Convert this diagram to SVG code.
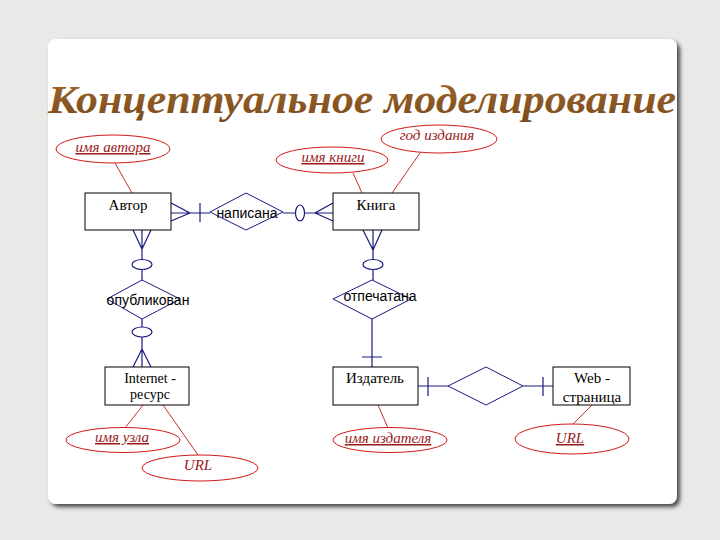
<svg xmlns="http://www.w3.org/2000/svg" width="720" height="540" viewBox="0 0 720 540">
<defs>
<filter id="shadow" x="-5%" y="-5%" width="115%" height="115%">
<feGaussianBlur in="SourceAlpha" stdDeviation="2"/>
<feOffset dx="3" dy="3" result="b"/>
<feComponentTransfer><feFuncA type="linear" slope="0.7"/></feComponentTransfer>
<feMerge><feMergeNode/><feMergeNode in="SourceGraphic"/></feMerge>
</filter>
<linearGradient id="tg" x1="0" y1="0" x2="0" y2="1">
<stop offset="0" stop-color="#a0682c"/>
<stop offset="1" stop-color="#7a4a1c"/>
</linearGradient>
<pattern id="speck" width="23" height="19" patternUnits="userSpaceOnUse">
<rect width="23" height="19" fill="#e9e9e7"/>
<circle cx="4" cy="5" r="0.7" fill="#dadad7"/>
<circle cx="15" cy="12" r="0.6" fill="#dcdcd9"/>
<circle cx="19" cy="3" r="0.6" fill="#f3f3f1"/>
<circle cx="9" cy="15" r="0.6" fill="#f2f2f0"/>
</pattern>
</defs>
<style>
.ent{fill:#fff;stroke:#000;stroke-width:1}
.et{font-family:"Liberation Serif","Times New Roman",serif;font-size:15px;fill:#000;text-anchor:middle}
.et2{font-size:14px}
.rel{fill:#fff;stroke:#1a1a80;stroke-width:1}
.rt{font-family:"Liberation Sans",Arial,sans-serif;font-size:14px;fill:#000;text-anchor:middle}
.ln{stroke:#1a1a80;stroke-width:1.2;fill:none}
.opt{fill:#fff;stroke:#1a1a80;stroke-width:1.2}
.att{fill:#fff;stroke:#d01818;stroke-width:1}
.at{font-family:"Liberation Serif","Times New Roman",serif;font-style:italic;font-size:15px;fill:#9a1a1a;text-anchor:middle}
.key{text-decoration:underline}
.al{stroke:#c83030;stroke-width:1;fill:none}
</style>
<rect width="720" height="540" fill="url(#speck)"/>
<rect x="48" y="39" width="629" height="465" rx="8" fill="#fff" filter="url(#shadow)"/>
<text x="362" y="113" font-family="Liberation Serif,'Times New Roman',serif" font-weight="bold" font-style="italic" font-size="40" fill="url(#tg)" text-anchor="middle" textLength="628" lengthAdjust="spacingAndGlyphs">Концептуальное моделирование</text>

<g id="connectors">
<line class="al" x1="115" y1="163" x2="132" y2="193"/>
<line class="al" x1="353" y1="173" x2="362" y2="193"/>
<line class="al" x1="420" y1="153" x2="392" y2="193"/>
<line class="al" x1="143" y1="405" x2="125" y2="428"/>
<line class="al" x1="163" y1="405" x2="198" y2="455"/>
<line class="al" x1="378" y1="405" x2="388" y2="428"/>
<line class="al" x1="592" y1="405" x2="573" y2="424"/>
<path class="ln" d="M171 203 L190 213 L171 221 M171 213 L210 213 M200 203 L200 222"/>
<path class="ln" d="M283 213 L333 213 M333 203 L315 213 L333 221"/>
<ellipse class="opt" cx="300" cy="213" rx="4.5" ry="8"/>
<path class="ln" d="M133 230 L142 249 L151 230 M142 230 L142 280"/>
<ellipse class="opt" cx="142" cy="264.5" rx="10" ry="5"/>
<path class="ln" d="M142 319 L142 367 M133 367 L142 349 L151 367"/>
<ellipse class="opt" cx="142" cy="332" rx="10" ry="5"/>
<path class="ln" d="M363 230 L373 250 L382 230 M373 230 L373 280"/>
<ellipse class="opt" cx="373" cy="264.5" rx="10" ry="5"/>
<path class="ln" d="M372 319 L372 367 M362 357 L382 357"/>
<path class="ln" d="M418 386 L448 386 M428 377 L428 396 M523 386 L553 386 M543 377 L543 396"/>
</g>

<g id="author"><rect class="ent" x="85" y="193" width="86" height="37"/><text class="et" x="128" y="210">Автор</text></g>
<g id="book"><rect class="ent" x="333" y="193" width="86" height="37"/><text class="et" x="376" y="210">Книга</text></g>
<g id="internet"><rect class="ent" x="105" y="367" width="84" height="38"/><text class="et et2" x="150" y="383">Internet -</text><text class="et et2" x="150" y="399">ресурс</text></g>
<g id="publisher"><rect class="ent" x="333" y="367" width="85" height="38"/><text class="et" x="375" y="383">Издатель</text></g>
<g id="webpage"><rect class="ent" x="553" y="367" width="77" height="38"/><text class="et" x="592" y="383">Web -</text><text class="et" x="592" y="402">страница</text></g>

<g id="rel-napisana"><polygon class="rel" points="210,212 246,193 283,212 246,230"/><text class="rt" x="247" y="218">написана</text></g>
<g id="rel-opublikovan"><polygon class="rel" points="107,299 142,280 180,299 142,319"/><text class="rt" x="148" y="305">опубликован</text></g>
<g id="rel-otpechatana"><polygon class="rel" points="333,299 372,280 411,299 372,319"/><text class="rt" x="380" y="301">отпечатана</text></g>
<g id="rel-publisher-web"><polygon class="rel" points="448,386 486,367 523,386 486,405"/></g>

<g id="attr-author-name"><ellipse class="att" cx="113" cy="149" rx="57" ry="14"/><text class="at key" x="113" y="152">имя автора</text></g>
<g id="attr-book-name"><ellipse class="att" cx="332" cy="160" rx="56" ry="13"/><text class="at key" x="333" y="162">имя книги</text></g>
<g id="attr-year"><ellipse class="att" cx="439" cy="139" rx="58" ry="14"/><text class="at" x="437" y="140">год издания</text></g>
<g id="attr-node-name"><ellipse class="att" cx="123" cy="440" rx="57" ry="12.5"/><text class="at key" x="122" y="442">имя узла</text></g>
<g id="attr-url1"><ellipse class="att" cx="200" cy="468" rx="58" ry="13"/><text class="at" x="198" y="470">URL</text></g>
<g id="attr-publisher-name"><ellipse class="att" cx="390" cy="440" rx="57" ry="12.5"/><text class="at key" x="388" y="443">имя издателя</text></g>
<g id="attr-url2"><ellipse class="att" cx="572" cy="439" rx="57" ry="15"/><text class="at key" x="570" y="443">URL</text></g>
</svg>
